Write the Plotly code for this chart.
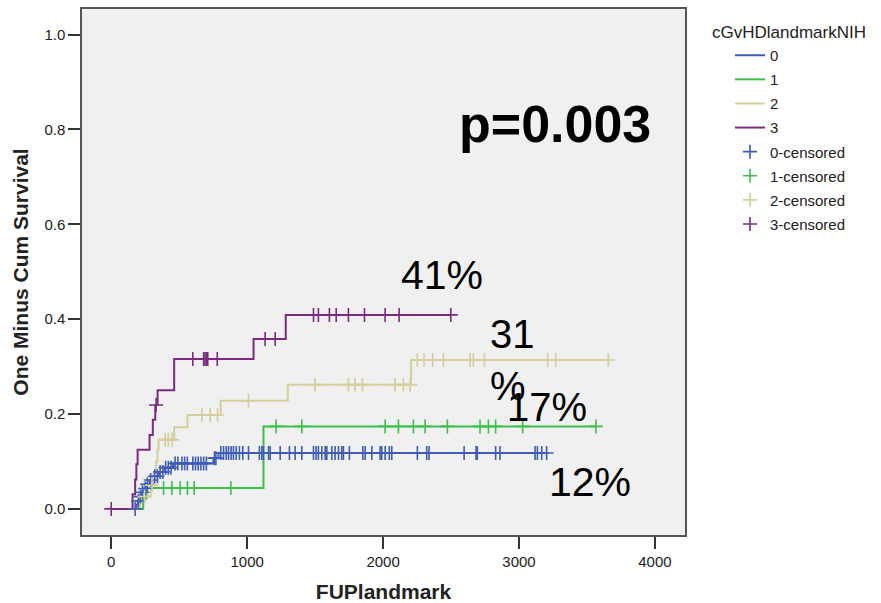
import numpy as np
import plotly.graph_objects as go

# ---------------- data ----------------
groups = ["0", "1", "2", "3"]
colors = ["#3F5DB8", "#3DBF4B", "#D5CF9B", "#7B2A80"]

# event times and cumulative incidence (1 - survival) after each event
g0_t = [185, 196, 208, 222, 238, 258, 282, 312, 350, 395, 455, 752, 789]
g0_v = [0.009, 0.017, 0.026, 0.035, 0.043, 0.052, 0.061, 0.069, 0.078, 0.087, 0.096, 0.107, 0.118]
g0_end = 3203
g0_cens = [176, 200, 215, 230, 250, 265, 290, 320, 340, 360, 380, 400, 420, 440, 470, 490,
           520, 540, 560, 600, 620, 640, 660, 680, 700, 760, 770,
           806, 826, 846, 863, 882, 899, 919, 943, 968, 1010, 1090, 1108, 1120, 1157, 1169,
           1243, 1311, 1353, 1402, 1488, 1507, 1524, 1549, 1574, 1586, 1623, 1647, 1672,
           1696, 1708, 1752, 1851, 1868, 1917, 1978, 1990, 2015, 2046, 2064, 2252, 2321,
           2338, 2596, 2684, 2693, 2828, 2860, 3118, 3135, 3167, 3203]

g1_t = [235, 260, 1120]
g1_v = [0.022, 0.044, 0.174]
g1_end = 3566
g1_cens = [385, 446, 507, 561, 610, 880, 1213, 1402, 2015, 2113, 2223, 2309, 2473,
           2713, 2775, 2828, 3027, 3566]

g2_t = [213, 290, 311, 330, 340, 348, 463, 561, 806, 1299, 2206]
g2_v = [0.026, 0.050, 0.075, 0.100, 0.125, 0.146, 0.172, 0.198, 0.228, 0.262, 0.314]
g2_end = 3657
g2_cens = [245, 300, 397, 420, 448, 667, 728, 782, 1010, 1500, 1745, 1794, 1848, 2088,
           2149, 2199, 2252, 2301, 2365, 2444, 2640, 2664, 2745, 3211, 3270, 3657]

g3_t = [157, 176, 185, 194, 282, 306, 324, 341, 463, 1047, 1284]
g3_v = [0.031, 0.062, 0.094, 0.125, 0.156, 0.188, 0.219, 0.250, 0.316, 0.358, 0.409]
g3_end = 2498
g3_cens = [0, 330, 600, 680, 690, 700, 710, 780, 1132, 1206, 1488, 1524, 1605, 1655,
           1745, 1863, 2015, 2118, 2498]

event_times = [g0_t, g1_t, g2_t, g3_t]
event_vals = [g0_v, g1_v, g2_v, g3_v]
end_times = [g0_end, g1_end, g2_end, g3_end]
censor_times = [g0_cens, g1_cens, g2_cens, g3_cens]

x_ticks = [0, 1000, 2000, 3000, 4000]
y_ticks = [0.0, 0.2, 0.4, 0.6, 0.8, 1.0]

labels = [  # (text, x, y, size, bold, xanchor)
    ("p=0.003", 3265, 0.812, 52, True, "center"),
    ("41%", 2434, 0.494, 41, False, "center"),
    ("31<br>%", 2772, 0.314, 40, False, "left"),
    ("17%", 3206, 0.215, 40, False, "center"),
    ("12%", 3522, 0.057, 41, False, "center"),
]

FONT = "Liberation Sans, Arial, sans-serif"

fig = go.Figure()

# step lines
for i, g in enumerate(groups):
    xs = [0] + list(event_times[i]) + [end_times[i]]
    ys = [0] + list(event_vals[i]) + [event_vals[i][-1]]
    fig.add_trace(go.Scatter(
        x=xs, y=ys, mode="lines", name=g, legendgroup="l" + g,
        line=dict(color=colors[i], width=2, shape="hv"),
        hoverinfo="skip"))

# censored marks
for i, g in enumerate(groups):
    t = np.array(event_times[i])
    v = np.array(event_vals[i])
    ct = np.array(censor_times[i])
    idx = np.searchsorted(t, ct, side="right") - 1
    cy = np.where(idx >= 0, v[np.clip(idx, 0, None)], 0.0)
    fig.add_trace(go.Scatter(
        x=ct, y=cy, mode="markers", name=g + "-censored", legendgroup="c" + g,
        marker=dict(symbol="cross-thin-open", size=10, color=colors[i],
                    line=dict(color=colors[i], width=1.6)),
        hoverinfo="skip"))

for text, x, y, size, bold, xa in labels:
    fig.add_annotation(
        x=x, y=y, xref="x", yref="y", text=("<b>%s</b>" % text) if bold else text,
        showarrow=False, xanchor=xa, yanchor="middle", align="left",
        font=dict(family=FONT, size=size, color="#000000"))

W, H = 881, 603
L, R, T, B = 82, 196, 9, 68
pw = W - L - R
ph = H - T - B

# legend title as separate text (entries are indented in the reference)
fig.add_annotation(
    x=(710 - L) / pw, y=1 - (33 - T) / ph, xref="paper", yref="paper",
    text="cGvHDlandmarkNIH",
    showarrow=False, xanchor="left", yanchor="middle",
    font=dict(family=FONT, size=17, color="#222222"))

fig.update_layout(
    width=W, height=H,
    margin=dict(l=L, r=R, t=T, b=B),
    paper_bgcolor="white", plot_bgcolor="#F0F0F0",
    font=dict(family=FONT, size=15, color="#222222"),
    showlegend=True,
    legend=dict(x=(730 - L) / pw, y=1 - (39 - T) / ph, xanchor="left", yanchor="top",
                font=dict(family=FONT, size=15, color="#222222"),
                bgcolor="rgba(0,0,0,0)", tracegroupgap=1.6, itemwidth=30),
    xaxis=dict(range=[-215, 4221], tickvals=x_ticks, ticks="outside", ticklen=12,
               tickwidth=1.5, tickcolor="#333333", showgrid=False, zeroline=False,
               showline=True, mirror=True, linecolor="#555555", linewidth=1.5,
               automargin=False,
               tickfont=dict(size=15, color="#222222"),
               title=dict(text="<b>FUPlandmark</b>", font=dict(size=21, color="#222222"),
                          standoff=18)),
    yaxis=dict(range=[-0.055, 1.054], tickvals=y_ticks, tickformat=".1f", ticks="outside",
               ticklen=12, tickwidth=1.5, tickcolor="#333333", showgrid=False,
               zeroline=False, showline=True, mirror=True, linecolor="#555555",
               linewidth=1.5, automargin=False, tickfont=dict(size=15, color="#222222"),
               title=dict(text="<b>One Minus Cum Survival</b>",
                          font=dict(size=21, color="#222222"), standoff=10)),
)

fig.write_html("out.html")
